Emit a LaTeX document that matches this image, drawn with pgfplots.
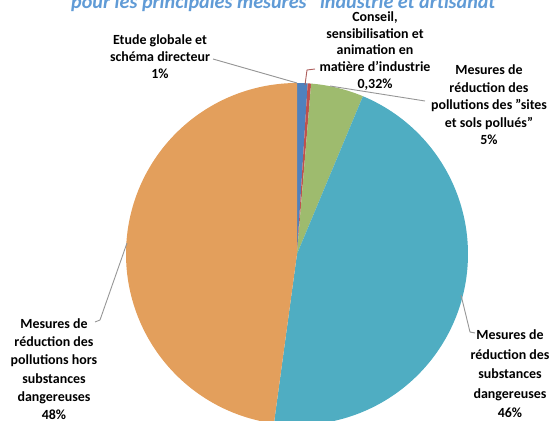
\documentclass[border=0pt]{standalone}
\usepackage{fontspec}
\setmainfont{Carlito}
\usepackage{pgfplots}
\pgfplotsset{compat=1.18}
\definecolor{cblue}{RGB}{79,129,189}
\definecolor{cred}{RGB}{192,80,77}
\definecolor{cgreen}{RGB}{158,187,110}
\definecolor{cteal}{RGB}{79,173,194}
\definecolor{corange}{RGB}{227,159,92}
\definecolor{ctitle}{RGB}{96,155,214}
\definecolor{cline}{RGB}{150,150,150}
% slice values (percent)
\def\vA{1}     % Etude globale et schema directeur
\def\vB{0.32}  % Conseil, sensibilisation
\def\vC{5}     % sites et sols pollues
\def\vD{46}    % substances dangereuses
\def\vE{48}    % hors substances dangereuses
\newcommand{\q}{\char"22\relax}
\newcommand{\ap}{\char"27\relax}
\begin{document}
\begin{tikzpicture}
\pgfmathsetmacro\tot{\vA+\vB+\vC+\vD+\vE}
\pgfmathsetmacro\k{360/\tot}
\pgfmathsetmacro\aA{90-\k*\vA}
\pgfmathsetmacro\aB{\aA-\k*\vB}
\pgfmathsetmacro\aC{\aB-\k*\vC}
\pgfmathsetmacro\aD{\aC-\k*\vD}
\useasboundingbox (0,0) rectangle (552bp,421bp);
\clip (0,0) rectangle (552bp,421bp);
\begin{axis}[at={(0,0)}, anchor=south west, x=1bp, y=1bp,
  xmin=0, xmax=552, ymin=0, ymax=421, hide axis, clip=false]
\addplot[fill=cblue, draw=none, domain=\aA:90, samples=10, variable=\t]
  ({297+171*cos(\t)},{167+171*sin(\t)}) -- (axis cs:297,167) -- cycle;
\addplot[fill=cred, draw=none, domain=\aB:\aA, samples=5, variable=\t]
  ({297+171*cos(\t)},{167+171*sin(\t)}) -- (axis cs:297,167) -- cycle;
\addplot[fill=cgreen, draw=none, domain=\aC:\aB, samples=30, variable=\t]
  ({297+171*cos(\t)},{167+171*sin(\t)}) -- (axis cs:297,167) -- cycle;
\addplot[fill=cteal, draw=none, domain=\aD:\aC, samples=120, variable=\t]
  ({297+171*cos(\t)},{167+171*sin(\t)}) -- (axis cs:297,167) -- cycle;
\addplot[fill=corange, draw=none, domain=-270:\aD, samples=120, variable=\t]
  ({297+171*cos(\t)},{167+171*sin(\t)}) -- (axis cs:297,167) -- cycle;
% leader lines
\draw[cline, line width=0.9pt] (axis cs:213,362) -- (axis cs:297,338);
\draw[cred!70!gray, line width=0.9pt] (axis cs:305,336) -- (axis cs:307,351) -- (axis cs:315,352);
\draw[cline, line width=0.9pt] (axis cs:330,335) -- (axis cs:425,320);
\draw[cline, line width=0.9pt] (axis cs:461,126) -- (axis cs:470,89) -- (axis cs:475,88);
\draw[cline, line width=0.9pt] (axis cs:127,178) -- (axis cs:100,101) -- (axis cs:95,99);
% title
\node[anchor=base, text=ctitle, font=\fontsize{20.2}{23}\selectfont\bfseries\itshape]
  at (axis cs:288,413) {pour les principales mesures \q industrie et artisanat\q};
% labels
\node[align=center, font=\fontsize{14}{17}\selectfont\bfseries] at (axis cs:160,364)
  {Etude globale et\\schéma directeur\\1\%};
\node[align=center, font=\fontsize{14}{17}\selectfont\bfseries] at (axis cs:375,370)
  {Conseil,\\sensibilisation et\\animation en\\matière d\ap industrie\\0,32\%};
\node[align=center, font=\fontsize{14}{17.5}\selectfont\bfseries] at (axis cs:489,316)
  {Mesures de\\réduction des\\pollutions des \q sites\\et sols pollués\q\\5\%};
\node[align=center, font=\fontsize{14}{19.5}\selectfont\bfseries] at (axis cs:510,47)
  {Mesures de\\réduction des\\substances\\dangereuses\\46\%};
\node[align=center, font=\fontsize{14}{18.4}\selectfont\bfseries] at (axis cs:54,52)
  {Mesures de\\réduction des\\pollutions hors\\substances\\dangereuses\\48\%};
\end{axis}
\end{tikzpicture}
\end{document}
